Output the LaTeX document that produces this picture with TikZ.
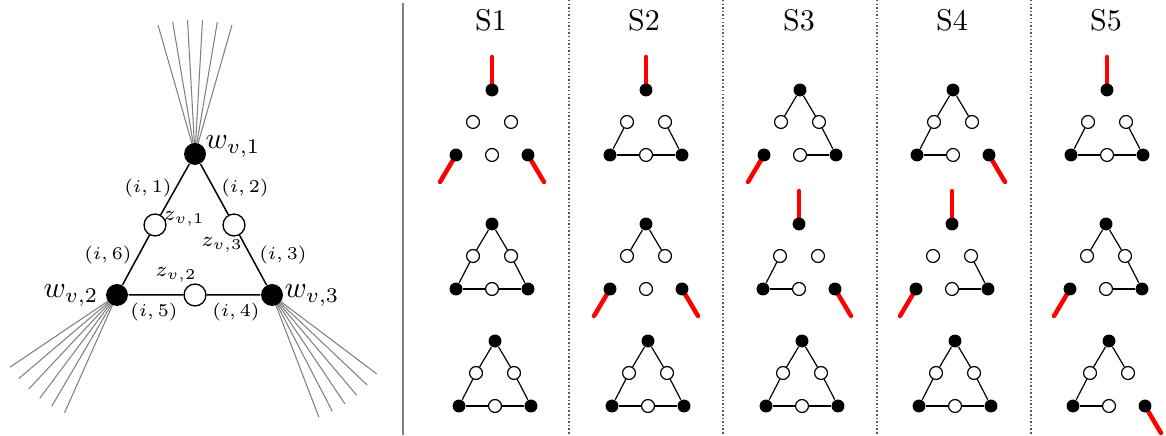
\documentclass[tikz,border=0pt]{standalone}
\usetikzlibrary{backgrounds}

\tikzset{
    bigw/.style={circle, fill=black, inner sep=0pt, minimum size=7.3pt},
    bigz/.style={circle, draw, fill=white, line width=0.45pt, inner sep=0pt, minimum size=7.3pt},
    smw/.style={circle, fill=black, inner sep=0pt, minimum size=4.3pt},
    smz/.style={circle, draw, fill=white, line width=0.4pt, inner sep=0pt, minimum size=4.3pt},
    redleg/.style={red, line width=1.5pt, line cap=round},
    fan/.style={gray, line width=0.35pt},
    elab/.style={font=\fontsize{6.2}{7}\selectfont},
    zlab/.style={font=\fontsize{7.5}{9}\selectfont},
    wlab/.style={anchor=base},
    sep/.style={black!65, line width=0.4pt, dash pattern=on 0.5pt off 0.7pt}
}

% small gadget: name, top position, edges, red legs
\newcommand{\gadget}[4]{%
    \begin{scope}[shift={#2}]
        \node[smw] (#1t) at (0,0) {};
        \node[smz] (#1a) at (-19,32) {};
        \node[smz] (#1b) at (19,32) {};
        \node[smw] (#1l) at (-36,65) {};
        \node[smz] (#1m) at (0,65) {};
        \node[smw] (#1r) at (36,65) {};
    \end{scope}
    \if\relax\detokenize{#3}\relax\else
        \foreach \p/\q in {#3} \draw[thin] (#1\p) -- (#1\q);
    \fi
    \if\relax\detokenize{#4}\relax\else
        \begin{scope}[on background layer]
            \foreach \n/\dx/\dy in {#4} \draw[redleg] (#1\n.center) -- ++(\dx,\dy);
        \end{scope}
    \fi
}

\begin{document}
\begin{tikzpicture}[x=0.3333pt, y=-0.3333pt]
    \useasboundingbox (0,0) rectangle (1166,436);

    \node[bigw] (w1) at (195,154) {};
    \node[bigw] (w2) at (117,295) {};
    \node[bigw] (w3) at (272,295) {};
    \node[bigz] (z1) at (155,225) {};
    \node[bigz] (z3) at (234,225) {};
    \node[bigz] (z2) at (195,295) {};
    \draw[line width=0.5pt] (w1) -- (z1) -- (w2) -- (z2) -- (w3) -- (z3) -- (w1);

    \begin{scope}[on background layer]
        \foreach \a in {254,260.4,...,287} \draw[fan] (w1.center) -- ++(\a:134);
        \foreach \a in {114,120.4,...,147} \draw[fan] (w2.center) -- ++(\a:129);
        \foreach \a in {37,43.4,...,70} \draw[fan] (w3.center) -- ++(\a:131);
    \end{scope}

    \node[wlab] (lw1) at (233,149) {$w_{v,1}$};
    \node[wlab] (lw2) at (71,298) {$w_{v,2}$};
    \node[wlab] (lw3) at (312,298) {$w_{v,3}$};
    \node[zlab] (lz1) at (184,219) {$z_{v,1}$};
    \node[zlab] (lz3) at (222,245) {$z_{v,3}$};
    \node[zlab] (lz2) at (176,275) {$z_{v,2}$};
    \node[elab] (e1) at (148,188) {$(i,1)$};
    \node[elab] (e2) at (245,188) {$(i,2)$};
    \node[elab] (e3) at (283,255) {$(i,3)$};
    \node[elab] (e4) at (236,312) {$(i,4)$};
    \node[elab] (e5) at (154,312) {$(i,5)$};
    \node[elab] (e6) at (108,255) {$(i,6)$};

    \draw[gray, line width=0.8pt] (403,3) -- (403,435);
    \foreach \x in {569,723,877,1031} \draw[sep] (\x,0) -- (\x,436);

    \node (s1) at (491,20) {S1};
    \node (s2) at (644,20) {S2};
    \node (s3) at (799,20) {S3};
    \node (s4) at (952,20) {S4};
    \node (s5) at (1106,20) {S5};

    \gadget{a1}{(492,90)}{}{t/0/-33,l/-16/27,r/16/27}
    \gadget{a2}{(492,224)}{t/a,a/l,l/m,m/r,r/b,b/t}{}
    \gadget{a3}{(495,341)}{t/a,a/l,l/m,m/r,r/b,b/t}{}
    \gadget{b1}{(646,90)}{a/l,l/m,m/r,r/b}{t/0/-33}
    \gadget{b2}{(646,224)}{t/a,t/b}{l/-16/27,r/16/27}
    \gadget{b3}{(648,341)}{t/a,a/l,l/m,m/r,r/b,b/t}{}
    \gadget{c1}{(800,90)}{t/a,t/b,b/r,m/r}{l/-16/27}
    \gadget{c2}{(799,224)}{a/l,l/m}{t/0/-33,r/16/27}
    \gadget{c3}{(802,341)}{t/a,a/l,l/m,m/r,r/b,b/t}{}
    \gadget{d1}{(953,90)}{t/a,t/b,a/l,l/m}{r/16/27}
    \gadget{d2}{(952,224)}{b/r,m/r}{t/0/-33,l/-16/27}
    \gadget{d3}{(955,341)}{t/a,a/l,l/m,m/r,r/b,b/t}{}
    \gadget{e1}{(1107,90)}{a/l,l/m,m/r,r/b}{t/0/-33}
    \gadget{e2}{(1106,224)}{t/a,t/b,b/r,m/r}{l/-16/27}
    \gadget{e3}{(1109,341)}{t/a,t/b,a/l,l/m}{r/16/27}
\end{tikzpicture}
\end{document}
